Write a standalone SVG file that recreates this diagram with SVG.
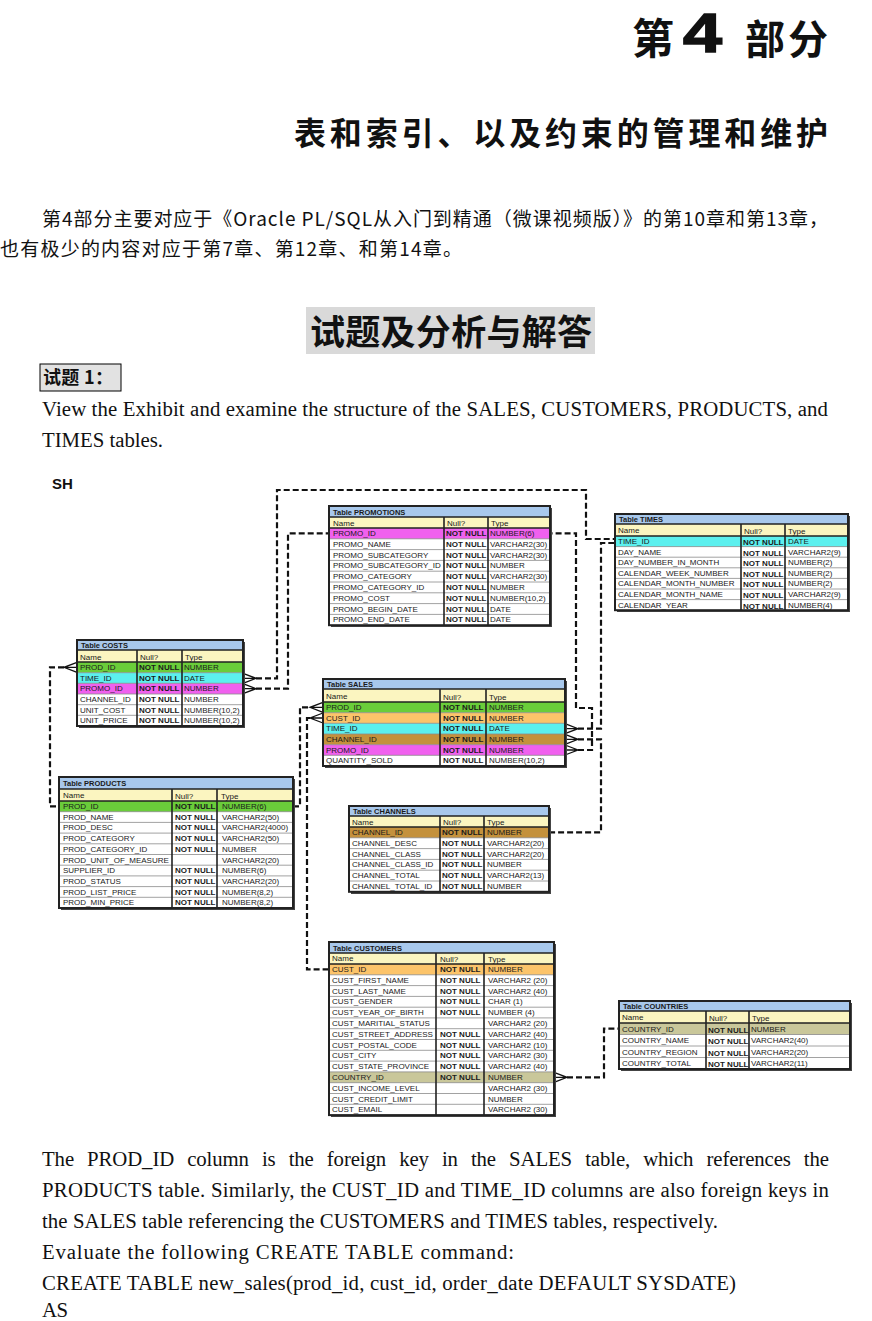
<svg xmlns="http://www.w3.org/2000/svg" width="872" height="1321" viewBox="0 0 872 1321">
<style>
.cjk{font-family:"Noto Sans CJK SC","Liberation Serif",sans-serif;fill:#111}
.ser{font-family:"Liberation Serif","Noto Sans CJK SC",serif;font-size:20.8px;fill:#111}
.c{font-family:"Liberation Sans",Arial,sans-serif;font-size:8px;fill:#1a1a1a}
.n{font-family:"Liberation Sans",Arial,sans-serif;font-size:8px;fill:#1a1a1a;font-weight:bold}
.tt{font-family:"Liberation Sans",Arial,sans-serif;font-size:7.5px;fill:#1a1a1a;font-weight:bold}
.box{fill:#fff}
.shadow{fill:#444}
.ttl{fill:#a8c8ec}
.hdr{fill:#fbf5c0}
.grid{stroke:#8a8a8a;stroke-width:0.8;fill:none}
.col{stroke:#222;stroke-width:1.6;fill:none}
.frame{fill:none;stroke:#222;stroke-width:2}
.g{fill:#6acd3a}.cy{fill:#5cf0ee}.m{fill:#f060ee}.o{fill:#fcc46a}.br{fill:#c4913c}.k{fill:#c9c79a}
.dash{fill:none;stroke:#111;stroke-width:2.2;stroke-dasharray:6 3}
.crow{fill:none;stroke:#111;stroke-width:1.3}
</style>

<!-- Page headings -->
<g id="heading">
<text class="cjk" x="632" y="54" font-size="42" font-weight="bold">第</text>
<text x="683" y="52" font-family="Liberation Sans,Arial,sans-serif" font-size="56" font-weight="bold" fill="#111" stroke="#111" stroke-width="1.5" textLength="39" lengthAdjust="spacingAndGlyphs">4</text>
<text class="cjk" x="745" y="54" font-size="40" font-weight="bold" textLength="83">部分</text>
<text class="cjk" x="294" y="145" font-size="32" font-weight="bold" textLength="534">表和索引、以及约束的管理和维护</text>
</g>

<g id="intro">
<text class="cjk" x="42" y="226" font-size="19" font-family="Liberation Serif,Noto Sans CJK SC,serif" textLength="786">第4部分主要对应于《Oracle PL/SQL从入门到精通（微课视频版）》的第10章和第13章，</text>
<text class="cjk" x="0" y="256" font-size="19" font-family="Liberation Serif,Noto Sans CJK SC,serif" textLength="462">也有极少的内容对应于第7章、第12章、和第14章。</text>
</g>

<g id="section-title">
<rect x="306" y="307" width="289" height="47" fill="#d9d9d9"/>
<text class="cjk" x="310" y="345" font-size="35" font-weight="bold" textLength="282">试题及分析与解答</text>
</g>

<g id="question-label">
<rect x="40" y="364" width="81" height="27" fill="#e2e2e2" stroke="#000" stroke-width="1"/>
<text class="cjk" x="43" y="384" font-size="18" font-weight="bold" textLength="70">试题 1：</text>
</g>

<g id="question-text">
<text class="ser" x="42" y="416" textLength="786">View the Exhibit and examine the structure of the SALES, CUSTOMERS, PRODUCTS, and</text>
<text class="ser" x="42" y="447" textLength="121">TIMES tables.</text>
</g>

<text x="52" y="489" font-family="Liberation Sans,Arial,sans-serif" font-size="15" font-weight="bold" fill="#111">SH</text>

<!-- Connectors -->
<g id="connectors">
<path class="dash" d="M256,678.3 H277 V490 H586 V539 H615"/>
<path class="dash" d="M256,688.7 H288 V533.4 H329"/>
<path class="dash" d="M64,667.3 H50 V806.3 H59"/>
<path class="dash" d="M293,806.3 H300 V707.3 H310"/>
<path class="dash" d="M310,718 H307 V969.4 H329"/>
<path class="dash" d="M578,728.7 H601 V543 H615"/>
<path class="dash" d="M578,739.3 H601 V832.4 H549"/>
<path class="dash" d="M578,750 H592 V708 H576 V533.4 H550"/>
<path class="dash" d="M567,1077.3 H604 V1028.7 H619"/>
<!-- crow's feet -->
<path class="crow" d="M243,673.3 L256,678.3 L243,683.3 M243,678.3 H256"/>
<path class="crow" d="M243,683.7 L256,688.7 L243,693.7 M243,688.7 H256"/>
<path class="crow" d="M77,662.3 L64,667.3 L77,672.3 M77,667.3 H64"/>
<path class="crow" d="M323,702.3 L310,707.3 L323,712.3 M323,707.3 H310"/>
<path class="crow" d="M323,713 L310,718 L323,723 M323,718 H310"/>
<path class="crow" d="M565,723.7 L578,728.7 L565,733.7 M565,728.7 H578"/>
<path class="crow" d="M565,734.3 L578,739.3 L565,744.3 M565,739.3 H578"/>
<path class="crow" d="M565,745 L578,750 L565,755 M565,750 H578"/>
<path class="crow" d="M554,1072.3 L567,1077.3 L554,1082.3 M554,1077.3 H567"/>
</g>

<!-- PROMOTIONS -->
<g id="t-promotions">
<rect class="shadow" x="331" y="508" width="221" height="119"/>
<rect class="box" x="329" y="506" width="221" height="119.2"/>
<rect class="ttl" x="329" y="506" width="221" height="11"/>
<rect class="hdr" x="329" y="517" width="221" height="11"/>
<rect class="m" x="329" y="528" width="221" height="10.8"/>
<path class="grid" d="M329,538.8H550M329,549.6H550M329,560.4H550M329,571.2H550M329,582H550M329,592.8H550M329,603.6H550M329,614.4H550"/>
<path class="col" d="M329,517H550M329,528H550M444,517V625.2M488,517V625.2"/>
<rect class="frame" x="329" y="506" width="221" height="119.2"/>
<text class="tt" x="333" y="515">Table PROMOTIONS</text>
<text class="c" x="333" y="526">Name</text><text class="c" x="447" y="526">Null?</text><text class="c" x="491" y="526">Type</text>
<text class="c"><tspan x="333" y="536">PROMO_ID</tspan><tspan x="333" y="546.8">PROMO_NAME</tspan><tspan x="333" y="557.6">PROMO_SUBCATEGORY</tspan><tspan x="333" y="568.4">PROMO_SUBCATEGORY_ID</tspan><tspan x="333" y="579.2">PROMO_CATEGORY</tspan><tspan x="333" y="590">PROMO_CATEGORY_ID</tspan><tspan x="333" y="600.8">PROMO_COST</tspan><tspan x="333" y="611.6">PROMO_BEGIN_DATE</tspan><tspan x="333" y="622.4">PROMO_END_DATE</tspan></text>
<text class="n"><tspan x="446" y="536">NOT NULL</tspan><tspan x="446" y="546.8">NOT NULL</tspan><tspan x="446" y="557.6">NOT NULL</tspan><tspan x="446" y="568.4">NOT NULL</tspan><tspan x="446" y="579.2">NOT NULL</tspan><tspan x="446" y="590">NOT NULL</tspan><tspan x="446" y="600.8">NOT NULL</tspan><tspan x="446" y="611.6">NOT NULL</tspan><tspan x="446" y="622.4">NOT NULL</tspan></text>
<text class="c"><tspan x="490" y="536">NUMBER(6)</tspan><tspan x="490" y="546.8">VARCHAR2(30)</tspan><tspan x="490" y="557.6">VARCHAR2(30)</tspan><tspan x="490" y="568.4">NUMBER</tspan><tspan x="490" y="579.2">VARCHAR2(30)</tspan><tspan x="490" y="590">NUMBER</tspan><tspan x="490" y="600.8">NUMBER(10,2)</tspan><tspan x="490" y="611.6">DATE</tspan><tspan x="490" y="622.4">DATE</tspan></text>
</g>

<!-- TIMES -->
<g id="t-times">
<rect class="shadow" x="617" y="516" width="233" height="96"/>
<rect class="box" x="615" y="514" width="233" height="96.2"/>
<rect class="ttl" x="615" y="514" width="233" height="10"/>
<rect class="hdr" x="615" y="524" width="233" height="12"/>
<rect class="cy" x="615" y="536" width="233" height="10.6"/>
<path class="grid" d="M615,546.6H848M615,557.2H848M615,567.8H848M615,578.4H848M615,589H848M615,599.6H848"/>
<path class="col" d="M615,524H848M615,536H848M741,524V610.2M785,524V610.2"/>
<rect class="frame" x="615" y="514" width="233" height="96.2"/>
<text class="tt" x="619" y="522">Table TIMES</text>
<text class="c" x="618" y="533">Name</text><text class="c" x="744" y="534">Null?</text><text class="c" x="788" y="534">Type</text>
<text class="c"><tspan x="618" y="544">TIME_ID</tspan><tspan x="618" y="554.6">DAY_NAME</tspan><tspan x="618" y="565.2">DAY_NUMBER_IN_MONTH</tspan><tspan x="618" y="575.8">CALENDAR_WEEK_NUMBER</tspan><tspan x="618" y="586.4">CALENDAR_MONTH_NUMBER</tspan><tspan x="618" y="597">CALENDAR_MONTH_NAME</tspan><tspan x="618" y="607.6">CALENDAR_YEAR</tspan></text>
<text class="n"><tspan x="743" y="545">NOT NULL</tspan><tspan x="743" y="555.6">NOT NULL</tspan><tspan x="743" y="566.2">NOT NULL</tspan><tspan x="743" y="576.8">NOT NULL</tspan><tspan x="743" y="587.4">NOT NULL</tspan><tspan x="743" y="598">NOT NULL</tspan><tspan x="743" y="608.6">NOT NULL</tspan></text>
<text class="c"><tspan x="788" y="544">DATE</tspan><tspan x="788" y="554.6">VARCHAR2(9)</tspan><tspan x="788" y="565.2">NUMBER(2)</tspan><tspan x="788" y="575.8">NUMBER(2)</tspan><tspan x="788" y="586.4">NUMBER(2)</tspan><tspan x="788" y="597">VARCHAR2(9)</tspan><tspan x="788" y="607.6">NUMBER(4)</tspan></text>
</g>

<!-- COSTS -->
<g id="t-costs">
<rect class="shadow" x="79" y="642" width="166" height="86"/>
<rect class="box" x="77" y="640" width="166" height="86"/>
<rect class="ttl" x="77" y="640" width="166" height="10"/>
<rect class="hdr" x="77" y="650" width="166" height="12"/>
<rect class="g" x="77" y="662" width="166" height="10.7"/>
<rect class="cy" x="77" y="672.7" width="166" height="10.6"/>
<rect class="m" x="77" y="683.3" width="166" height="10.7"/>
<path class="grid" d="M77,672.7H243M77,683.3H243M77,694H243M77,704.7H243M77,715.3H243"/>
<path class="col" d="M77,650H243M77,662H243M137,650V726M182,650V726"/>
<rect class="frame" x="77" y="640" width="166" height="86"/>
<text class="tt" x="81" y="648">Table COSTS</text>
<text class="c" x="80" y="660">Name</text><text class="c" x="140" y="660">Null?</text><text class="c" x="185" y="660">Type</text>
<text class="c"><tspan x="80" y="670">PROD_ID</tspan><tspan x="80" y="680.7">TIME_ID</tspan><tspan x="80" y="691.3">PROMO_ID</tspan><tspan x="80" y="702">CHANNEL_ID</tspan><tspan x="80" y="712.7">UNIT_COST</tspan><tspan x="80" y="723.3">UNIT_PRICE</tspan></text>
<text class="n"><tspan x="139" y="670">NOT NULL</tspan><tspan x="139" y="680.7">NOT NULL</tspan><tspan x="139" y="691.3">NOT NULL</tspan><tspan x="139" y="702">NOT NULL</tspan><tspan x="139" y="712.7">NOT NULL</tspan><tspan x="139" y="723.3">NOT NULL</tspan></text>
<text class="c"><tspan x="184" y="670">NUMBER</tspan><tspan x="184" y="680.7">DATE</tspan><tspan x="184" y="691.3">NUMBER</tspan><tspan x="184" y="702">NUMBER</tspan><tspan x="184" y="712.7">NUMBER(10,2)</tspan><tspan x="184" y="723.3">NUMBER(10,2)</tspan></text>
</g>

<!-- SALES -->
<g id="t-sales">
<rect class="shadow" x="325" y="681" width="242" height="87"/>
<rect class="box" x="323" y="679" width="242" height="87"/>
<rect class="ttl" x="323" y="679" width="242" height="10"/>
<rect class="hdr" x="323" y="689" width="242" height="13"/>
<rect class="g" x="323" y="702" width="242" height="10.7"/>
<rect class="o" x="323" y="712.7" width="242" height="10.6"/>
<rect class="cy" x="323" y="723.3" width="242" height="10.7"/>
<rect class="br" x="323" y="734" width="242" height="10.7"/>
<rect class="m" x="323" y="744.7" width="242" height="10.6"/>
<path class="grid" d="M323,712.7H565M323,723.3H565M323,734H565M323,744.7H565M323,755.3H565"/>
<path class="col" d="M323,689H565M323,702H565M440,689V766M486,689V766"/>
<rect class="frame" x="323" y="679" width="242" height="87"/>
<text class="tt" x="327" y="687">Table SALES</text>
<text class="c" x="326" y="699">Name</text><text class="c" x="443" y="700">Null?</text><text class="c" x="489" y="700">Type</text>
<text class="c"><tspan x="326" y="710">PROD_ID</tspan><tspan x="326" y="720.7">CUST_ID</tspan><tspan x="326" y="731.3">TIME_ID</tspan><tspan x="326" y="742">CHANNEL_ID</tspan><tspan x="326" y="752.7">PROMO_ID</tspan><tspan x="326" y="763.3">QUANTITY_SOLD</tspan></text>
<text class="n"><tspan x="443" y="710">NOT NULL</tspan><tspan x="443" y="720.7">NOT NULL</tspan><tspan x="443" y="731.3">NOT NULL</tspan><tspan x="443" y="742">NOT NULL</tspan><tspan x="443" y="752.7">NOT NULL</tspan><tspan x="443" y="763.3">NOT NULL</tspan></text>
<text class="c"><tspan x="489" y="710">NUMBER</tspan><tspan x="489" y="720.7">NUMBER</tspan><tspan x="489" y="731.3">DATE</tspan><tspan x="489" y="742">NUMBER</tspan><tspan x="489" y="752.7">NUMBER</tspan><tspan x="489" y="763.3">NUMBER(10,2)</tspan></text>
</g>

<!-- PRODUCTS -->
<g id="t-products">
<rect class="shadow" x="61" y="779" width="234" height="131"/>
<rect class="box" x="59" y="777" width="234" height="131"/>
<rect class="ttl" x="59" y="777" width="234" height="12"/>
<rect class="hdr" x="59" y="789" width="234" height="12"/>
<rect class="g" x="59" y="801" width="234" height="10.7"/>
<path class="grid" d="M59,811.7H293M59,822.4H293M59,833.1H293M59,843.8H293M59,854.5H293M59,865.2H293M59,875.9H293M59,886.6H293M59,897.3H293"/>
<path class="col" d="M59,789H293M59,801H293M172,789V908M217,789V908"/>
<rect class="frame" x="59" y="777" width="234" height="131"/>
<text class="tt" x="63" y="786">Table PRODUCTS</text>
<text class="c" x="63" y="798">Name</text><text class="c" x="175" y="799">Null?</text><text class="c" x="221" y="799">Type</text>
<text class="c"><tspan x="63" y="809">PROD_ID</tspan><tspan x="63" y="819.7">PROD_NAME</tspan><tspan x="63" y="830.4">PROD_DESC</tspan><tspan x="63" y="841.1">PROD_CATEGORY</tspan><tspan x="63" y="851.8">PROD_CATEGORY_ID</tspan><tspan x="63" y="862.5">PROD_UNIT_OF_MEASURE</tspan><tspan x="63" y="873.2">SUPPLIER_ID</tspan><tspan x="63" y="883.9">PROD_STATUS</tspan><tspan x="63" y="894.6">PROD_LIST_PRICE</tspan><tspan x="63" y="905.3">PROD_MIN_PRICE</tspan></text>
<text class="n"><tspan x="175" y="809">NOT NULL</tspan><tspan x="175" y="819.7">NOT NULL</tspan><tspan x="175" y="830.4">NOT NULL</tspan><tspan x="175" y="841.1">NOT NULL</tspan><tspan x="175" y="851.8">NOT NULL</tspan><tspan x="175" y="873.2">NOT NULL</tspan><tspan x="175" y="883.9">NOT NULL</tspan><tspan x="175" y="894.6">NOT NULL</tspan><tspan x="175" y="905.3">NOT NULL</tspan></text>
<text class="c"><tspan x="222" y="809">NUMBER(6)</tspan><tspan x="222" y="819.7">VARCHAR2(50)</tspan><tspan x="222" y="830.4">VARCHAR2(4000)</tspan><tspan x="222" y="841.1">VARCHAR2(50)</tspan><tspan x="222" y="851.8">NUMBER</tspan><tspan x="222" y="862.5">VARCHAR2(20)</tspan><tspan x="222" y="873.2">NUMBER(6)</tspan><tspan x="222" y="883.9">VARCHAR2(20)</tspan><tspan x="222" y="894.6">NUMBER(8,2)</tspan><tspan x="222" y="905.3">NUMBER(8,2)</tspan></text>
</g>

<!-- CHANNELS -->
<g id="t-channels">
<rect class="shadow" x="351" y="808" width="200" height="86"/>
<rect class="box" x="349" y="806" width="200" height="85.8"/>
<rect class="ttl" x="349" y="806" width="200" height="10"/>
<rect class="hdr" x="349" y="816" width="200" height="11"/>
<rect class="br" x="349" y="827" width="200" height="10.8"/>
<path class="grid" d="M349,837.8H549M349,848.6H549M349,859.4H549M349,870.2H549M349,881H549"/>
<path class="col" d="M349,816H549M349,827H549M440,816V891.8M484,816V891.8"/>
<rect class="frame" x="349" y="806" width="200" height="85.8"/>
<text class="tt" x="353" y="814">Table CHANNELS</text>
<text class="c" x="352" y="825">Name</text><text class="c" x="443" y="825">Null?</text><text class="c" x="487" y="825">Type</text>
<text class="c"><tspan x="352" y="835">CHANNEL_ID</tspan><tspan x="352" y="845.8">CHANNEL_DESC</tspan><tspan x="352" y="856.6">CHANNEL_CLASS</tspan><tspan x="352" y="867.4">CHANNEL_CLASS_ID</tspan><tspan x="352" y="878.2">CHANNEL_TOTAL</tspan><tspan x="352" y="889">CHANNEL_TOTAL_ID</tspan></text>
<text class="n"><tspan x="442" y="835">NOT NULL</tspan><tspan x="442" y="845.8">NOT NULL</tspan><tspan x="442" y="856.6">NOT NULL</tspan><tspan x="442" y="867.4">NOT NULL</tspan><tspan x="442" y="878.2">NOT NULL</tspan><tspan x="442" y="889">NOT NULL</tspan></text>
<text class="c"><tspan x="487" y="835">NUMBER</tspan><tspan x="487" y="845.8">VARCHAR2(20)</tspan><tspan x="487" y="856.6">VARCHAR2(20)</tspan><tspan x="487" y="867.4">NUMBER</tspan><tspan x="487" y="878.2">VARCHAR2(13)</tspan><tspan x="487" y="889">NUMBER</tspan></text>
</g>

<!-- CUSTOMERS -->
<g id="t-customers">
<rect class="shadow" x="331" y="944" width="225" height="173"/>
<rect class="box" x="329" y="942" width="225" height="173.1"/>
<rect class="ttl" x="329" y="942" width="225" height="11"/>
<rect class="hdr" x="329" y="953" width="225" height="11"/>
<rect class="o" x="329" y="964" width="225" height="10.8"/>
<rect class="k" x="329" y="1071.9" width="225" height="10.8"/>
<path class="grid" d="M329,974.8H554M329,985.6H554M329,996.4H554M329,1007.2H554M329,1017.9H554M329,1028.7H554M329,1039.5H554M329,1050.3H554M329,1061.1H554M329,1071.9H554M329,1082.7H554M329,1093.5H554M329,1104.3H554"/>
<path class="col" d="M329,953H554M329,964H554M436,953V1115.1M484,953V1115.1"/>
<rect class="frame" x="329" y="942" width="225" height="173.1"/>
<text class="tt" x="333" y="951">Table CUSTOMERS</text>
<text class="c" x="332" y="961">Name</text><text class="c" x="440" y="962">Null?</text><text class="c" x="488" y="962">Type</text>
<text class="c"><tspan x="332" y="972">CUST_ID</tspan><tspan x="332" y="982.8">CUST_FIRST_NAME</tspan><tspan x="332" y="993.6">CUST_LAST_NAME</tspan><tspan x="332" y="1004.4">CUST_GENDER</tspan><tspan x="332" y="1015.2">CUST_YEAR_OF_BIRTH</tspan><tspan x="332" y="1025.9">CUST_MARITIAL_STATUS</tspan><tspan x="332" y="1036.7">CUST_STREET_ADDRESS</tspan><tspan x="332" y="1047.5">CUST_POSTAL_CODE</tspan><tspan x="332" y="1058.3">CUST_CITY</tspan><tspan x="332" y="1069.1">CUST_STATE_PROVINCE</tspan><tspan x="332" y="1079.9">COUNTRY_ID</tspan><tspan x="332" y="1090.7">CUST_INCOME_LEVEL</tspan><tspan x="332" y="1101.5">CUST_CREDIT_LIMIT</tspan><tspan x="332" y="1112.3">CUST_EMAIL</tspan></text>
<text class="n"><tspan x="440" y="972">NOT NULL</tspan><tspan x="440" y="982.8">NOT NULL</tspan><tspan x="440" y="993.6">NOT NULL</tspan><tspan x="440" y="1004.4">NOT NULL</tspan><tspan x="440" y="1015.2">NOT NULL</tspan><tspan x="440" y="1036.7">NOT NULL</tspan><tspan x="440" y="1047.5">NOT NULL</tspan><tspan x="440" y="1058.3">NOT NULL</tspan><tspan x="440" y="1069.1">NOT NULL</tspan><tspan x="440" y="1079.9">NOT NULL</tspan></text>
<text class="c"><tspan x="488" y="972">NUMBER</tspan><tspan x="488" y="982.8">VARCHAR2 (20)</tspan><tspan x="488" y="993.6">VARCHAR2 (40)</tspan><tspan x="488" y="1004.4">CHAR (1)</tspan><tspan x="488" y="1015.2">NUMBER (4)</tspan><tspan x="488" y="1025.9">VARCHAR2 (20)</tspan><tspan x="488" y="1036.7">VARCHAR2 (40)</tspan><tspan x="488" y="1047.5">VARCHAR2 (10)</tspan><tspan x="488" y="1058.3">VARCHAR2 (30)</tspan><tspan x="488" y="1069.1">VARCHAR2 (40)</tspan><tspan x="488" y="1079.9">NUMBER</tspan><tspan x="488" y="1090.7">VARCHAR2 (30)</tspan><tspan x="488" y="1101.5">NUMBER</tspan><tspan x="488" y="1112.3">VARCHAR2 (30)</tspan></text>
</g>

<!-- COUNTRIES -->
<g id="t-countries">
<rect class="shadow" x="621" y="1003" width="231" height="68"/>
<rect class="box" x="619" y="1001" width="231" height="68"/>
<rect class="ttl" x="619" y="1001" width="231" height="10"/>
<rect class="hdr" x="619" y="1011" width="231" height="12"/>
<rect class="k" x="619" y="1023" width="231" height="11.5"/>
<path class="grid" d="M619,1034.5H850M619,1046H850M619,1057.5H850"/>
<path class="col" d="M619,1011H850M619,1023H850M706,1011V1069M749,1011V1069"/>
<rect class="frame" x="619" y="1001" width="231" height="68"/>
<text class="tt" x="623" y="1009">Table COUNTRIES</text>
<text class="c" x="622" y="1020">Name</text><text class="c" x="709" y="1021">Null?</text><text class="c" x="752" y="1021">Type</text>
<text class="c"><tspan x="622" y="1031.5">COUNTRY_ID</tspan><tspan x="622" y="1043">COUNTRY_NAME</tspan><tspan x="622" y="1054.5">COUNTRY_REGION</tspan><tspan x="622" y="1066">COUNTRY_TOTAL</tspan></text>
<text class="n"><tspan x="708" y="1032.5">NOT NULL</tspan><tspan x="708" y="1044">NOT NULL</tspan><tspan x="708" y="1055.5">NOT NULL</tspan><tspan x="708" y="1067">NOT NULL</tspan></text>
<text class="c"><tspan x="751" y="1031.5">NUMBER</tspan><tspan x="751" y="1043">VARCHAR2(40)</tspan><tspan x="751" y="1054.5">VARCHAR2(20)</tspan><tspan x="751" y="1066">VARCHAR2(11)</tspan></text>
</g>

<!-- Bottom text -->
<g id="answer-text">
<text class="ser" x="42" y="1166" word-spacing="8" textLength="787">The PROD_ID column is the foreign key in the SALES table, which references the</text>
<text class="ser" x="42" y="1197" textLength="787">PRODUCTS table. Similarly, the CUST_ID and TIME_ID columns are also foreign keys in</text>
<text class="ser" x="42" y="1228" textLength="676">the SALES table referencing the CUSTOMERS and TIMES tables, respectively.</text>
<text class="ser" x="42" y="1259" textLength="472">Evaluate the following CREATE TABLE command:</text>
<text class="ser" x="42" y="1290" textLength="694">CREATE TABLE new_sales(prod_id, cust_id, order_date DEFAULT SYSDATE)</text>
<text class="ser" x="42" y="1317" textLength="26">AS</text>
</g>
</svg>
